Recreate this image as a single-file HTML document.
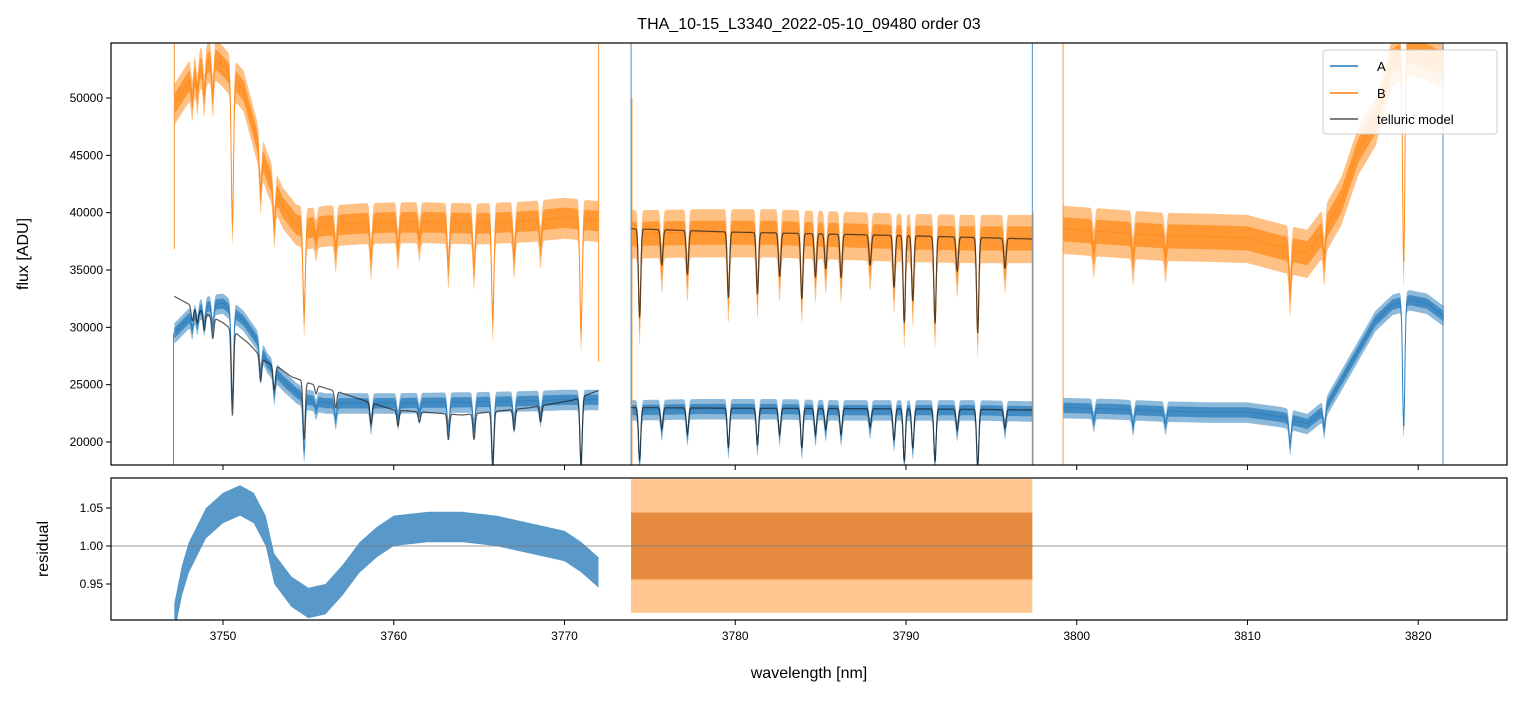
<!DOCTYPE html>
<html><head><meta charset="utf-8"><style>
body{margin:0;background:#fff}
svg text{font-family:"Liberation Sans","DejaVu Sans",sans-serif;fill:#000}
</style></head><body>
<svg id="c" width="1520" height="696" xmlns="http://www.w3.org/2000/svg"></svg>
<script>
// ---- data ----
const segments=[[3747.15,3772.0],[3773.9,3797.4],[3799.2,3821.5]];
const knotWl=[3747.15,3748,3748.5,3749,3749.5,3750,3751.2,3752,3752.6,3753.5,3754.3,3755,3756,3758,3760,3762,3765,3768,3770,3772,3773.9,3778,3782,3786,3790,3794,3797.4,3799.2,3802,3805,3808,3810,3812,3813.5,3814.5,3815.5,3816.5,3817.5,3818.5,3819.5,3820.5,3821.5];
const fluxA=[29500,30800,31500,31800,32000,32100,30600,28900,26900,25400,24300,23700,23400,23400,23400,23450,23500,23600,23700,23700,22800,22900,22900,22800,22800,22800,22700,23000,22900,22700,22600,22600,22200,21600,22800,25400,28000,30600,32000,32400,32100,31000];
const fluxB=[49500,51500,52500,53000,53500,52800,50700,46300,43500,40500,39000,38700,38900,39100,39200,39200,39100,39300,39600,39300,38200,38300,38300,38100,37900,37800,37800,38600,38300,38000,37900,37800,37000,36500,38500,41100,45500,48000,53300,54200,53700,53000];
const modelWl=[3747.15,3750,3751.5,3752.5,3753.3,3754,3755,3756,3757,3758.5,3760,3764,3768,3770.5,3772,3773.9,3780,3790,3797.4];
const modelA=[32700,30400,28600,27000,26450,25700,25150,24700,24250,23500,22800,22350,23000,23650,24500,23000,22950,22900,22800];
const modelB=[null,null,null,null,null,null,null,null,null,null,null,null,null,null,null,38600,38300,38000,37700];
const lineWl=[3748.2,3748.5,3748.9,3749.4,3750.55,3752.2,3753.0,3754.75,3755.45,3756.6,3758.67,3760.25,3761.5,3763.2,3764.7,3765.8,3767.05,3768.6,3770.97,3774.4,3775.7,3777.2,3779.6,3781.3,3782.6,3783.9,3784.7,3785.3,3786.2,3787.9,3789.3,3789.9,3790.4,3791.7,3793.0,3794.2,3795.8,3801.0,3803.3,3805.2,3812.5,3814.5,3819.15];
const lineDepth=[0.04,0.04,0.05,0.06,0.25,0.08,0.08,0.2,0.03,0.06,0.08,0.06,0.04,0.1,0.1,0.22,0.08,0.06,0.25,0.2,0.08,0.1,0.15,0.14,0.1,0.15,0.1,0.08,0.1,0.07,0.12,0.2,0.15,0.2,0.08,0.22,0.07,0.05,0.06,0.05,0.1,0.07,0.34];
const noiseA=[850,850,850];
const noiseB=[1700,2000,2000];
const resWl=[3747.15,3747.6,3748,3749,3750,3751,3751.8,3752.5,3753,3754,3755,3756,3757,3758,3759,3760,3762,3764,3766,3768,3770,3771,3772];
const resA=[0.905,0.955,0.985,1.03,1.05,1.06,1.05,1.02,0.97,0.94,0.925,0.93,0.955,0.985,1.005,1.02,1.025,1.025,1.02,1.01,1.0,0.985,0.965];
const resNoiseA=[0.02,0.03];
const resNoiseB=0.088;
const xTicks=[3750,3760,3770,3780,3790,3800,3810,3820];
const yTicks=[20000,25000,30000,35000,40000,45000,50000];
const rTicks=[0.95,1.00,1.05];

// ---- axes ----
const L=111,R=1507,T1=43,B1=465,T2=478,B2=620;
const X0=3743.44,X1=3825.2,Y0=17994,Y1=54797,RY0=0.9026,RY1=1.0895;
const xs=w=>L+(w-X0)/(X1-X0)*(R-L);
const ys=v=>B1-(v-Y0)/(Y1-Y0)*(B1-T1);
const yr=v=>B2-(v-RY0)/(RY1-RY0)*(B2-T2);
const svg=document.getElementById('c');
const NS='http://www.w3.org/2000/svg';
function mk(tag,attrs,parent){const e=document.createElementNS(NS,tag);for(const k in attrs)e.setAttribute(k,attrs[k]);(parent||svg).appendChild(e);return e;}
function interp(xa,ya,x){for(let i=0;i<xa.length-1;i++){if(x>=xa[i]&&x<=xa[i+1]){if(ya[i]==null||ya[i+1]==null)return null;return ya[i]+(ya[i+1]-ya[i])*(x-xa[i])/(xa[i+1]-xa[i]);}}return null;}
function absorb(w){let f=1;for(let i=0;i<lineWl.length;i++){const d=(w-lineWl[i])/0.065;if(Math.abs(d)<6)f*=1-lineDepth[i]*Math.exp(-0.5*d*d);}return f;}

const defs=mk('defs',{});
const cp1=mk('clipPath',{id:'cp1'},defs);mk('rect',{x:L,y:T1,width:R-L,height:B1-T1},cp1);
const cp2=mk('clipPath',{id:'cp2'},defs);mk('rect',{x:L,y:T2,width:R-L,height:B2-T2},cp2);
const g1=mk('g',{'clip-path':'url(#cp1)'});


const g2=mk('g',{'clip-path':'url(#cp2)'});



function drawSeries(fluxArr,noiseArr,color,name){
  segments.forEach((s,si)=>{
    const up=[],lo=[],mid=[],upi=[],loi=[];
    for(let w=s[0];w<=s[1];w+=0.02){const c=interp(knotWl,fluxArr,w);if(c==null)continue;const v=c*absorb(w);const n=noiseArr[si];const X=xs(w).toFixed(1);
      mid.push(X+','+ys(v).toFixed(1));up.push(X+','+ys(v+n).toFixed(1));lo.unshift(X+','+ys(v-n*1.1).toFixed(1));
      upi.push(X+','+ys(v+n*0.5).toFixed(1));loi.unshift(X+','+ys(v-n*0.55).toFixed(1));}
    const band=mk('polygon',{points:up.concat(lo).join(' '),fill:color,'fill-opacity':0.55,stroke:'none'},g1);
    
    
    const band2=mk('polygon',{points:upi.concat(loi).join(' '),fill:color,'fill-opacity':0.8,stroke:'none'},g1);
    
    
    const ln=mk('polyline',{points:mid.join(' '),fill:'none',stroke:color,'stroke-width':1},g1);
    
    
  });
}
drawSeries(fluxB,noiseB,'#ff8c1f','series-b');
drawSeries(fluxA,noiseA,'#2f80bd','series-a');
[[3747.15,'#ff9a3c',36800,Y1],[3772.0,'#ff9a3c',27000,Y1],[3773.9,'#4a90c4',Y0,Y1],[3773.95,'#ff9a3c',Y0,50000],[3797.4,'#4a90c4',Y0,Y1],[3797.45,'#ff9a3c',Y0,40000],[3799.2,'#ff9a3c',Y0,Y1],[3821.45,'#4a90c4',Y0,Y1],[3747.1,'#4a90c4',Y0,29500]].forEach((s,i)=>{
  const e=mk('line',{x1:xs(s[0]),x2:xs(s[0]),y1:ys(s[2]),y2:ys(s[3]),stroke:s[1],'stroke-width':1},g1);
  
  
});
function drawModel(arr,ranges,name){
  ranges.forEach((s,si)=>{const pts=[];for(let w=s[0];w<=s[1];w+=0.02){const c=interp(modelWl,arr,w);if(c==null)continue;pts.push(xs(w).toFixed(1)+','+ys(c*absorb(w)).toFixed(1));}
    const e=mk('polyline',{points:pts.join(' '),fill:'none',stroke:'#222','stroke-opacity':0.75,'stroke-width':1.2},g1);
    
    });
}
drawModel(modelA,[[3747.15,3772.0],[3773.9,3797.4]],'telluric-model-a');
drawModel(modelB,[[3773.9,3797.4]],'telluric-model-b');

(function(){
  const up=[],lo=[];
  for(let w=resWl[0];w<=resWl[resWl.length-1];w+=0.02){const v=interp(resWl,resA,w);if(v==null)continue;up.push(xs(w).toFixed(1)+','+yr(v+resNoiseA[0]).toFixed(1));lo.unshift(xs(w).toFixed(1)+','+yr(v-resNoiseA[0]).toFixed(1));}
  const e=mk('polygon',{points:up.concat(lo).join(' '),fill:'#2f80bd','fill-opacity':0.8,stroke:'none'},g2);
  
  
  const s=segments[1];
  const rb=mk('rect',{x:xs(s[0]),y:yr(1+resNoiseB),width:xs(s[1])-xs(s[0]),height:yr(1-resNoiseB)-yr(1+resNoiseB),fill:'#ff8c1f','fill-opacity':0.5},g2);
  
  
  const rb2=mk('rect',{x:xs(s[0]),y:yr(1+resNoiseB*0.5),width:xs(s[1])-xs(s[0]),height:yr(1-resNoiseB*0.5)-yr(1+resNoiseB*0.5),fill:'#e07f30','fill-opacity':0.85},g2);
  
  
  const h=mk('line',{x1:L,x2:R,y1:yr(1),y2:yr(1),stroke:'#777','stroke-width':0.8},g2);
  
  
})();

[[T1,B1,'flux-axes-frame'],[T2,B2,'residual-axes-frame']].forEach(f=>{const e=mk('rect',{x:L,y:f[0],width:R-L,height:f[1]-f[0],fill:'none',stroke:'#000','stroke-width':1.2});
  
  });
xTicks.forEach(t=>{
  mk('line',{x1:xs(t),x2:xs(t),y1:B1,y2:B1+5,stroke:'#000'});
  mk('line',{x1:xs(t),x2:xs(t),y1:B2,y2:B2+5,stroke:'#000'});
  const tx=mk('text',{x:xs(t),y:B2+20,'text-anchor':'middle','font-size':12});tx.textContent=t;
  
  
});
yTicks.forEach(t=>{
  mk('line',{x1:L-5,x2:L,y1:ys(t),y2:ys(t),stroke:'#000'});
  const tx=mk('text',{x:L-8,y:ys(t)+4,'text-anchor':'end','font-size':12});tx.textContent=t;
  
  
});
rTicks.forEach(t=>{
  mk('line',{x1:L-5,x2:L,y1:yr(t),y2:yr(t),stroke:'#000'});
  const tx=mk('text',{x:L-8,y:yr(t)+4,'text-anchor':'end','font-size':12});tx.textContent=t.toFixed(2);
  
  
});
</script>
<svg width="1520" height="696" style="position:absolute;left:0;top:0" xmlns="http://www.w3.org/2000/svg">
<text x="809" y="29" text-anchor="middle" font-size="16">THA_10-15_L3340_2022-05-10_09480  order 03</text>
<text transform="translate(28,254) rotate(-90)" text-anchor="middle" font-size="16">flux [ADU]</text>
<text transform="translate(48,549) rotate(-90)" text-anchor="middle" font-size="16">residual</text>
<text x="809" y="678" text-anchor="middle" font-size="16">wavelength [nm]</text>
<g>
<rect x="1323" y="50" width="174" height="84" rx="3" fill="#fff" fill-opacity="0.85" stroke="#ccc"/>
<line x1="1330" x2="1358" y1="66" y2="66" stroke="#1f77b4" stroke-width="1.5"/>
<text x="1377" y="71" font-size="13">A</text>
<line x1="1330" x2="1358" y1="93" y2="93" stroke="#ff7f0e" stroke-width="1.5"/>
<text x="1377" y="98" font-size="13">B</text>
<line x1="1330" x2="1358" y1="119" y2="119" stroke="#555" stroke-width="1.5"/>
<text x="1377" y="124" font-size="13">telluric model</text>
</g>
</svg>
</body></html>
